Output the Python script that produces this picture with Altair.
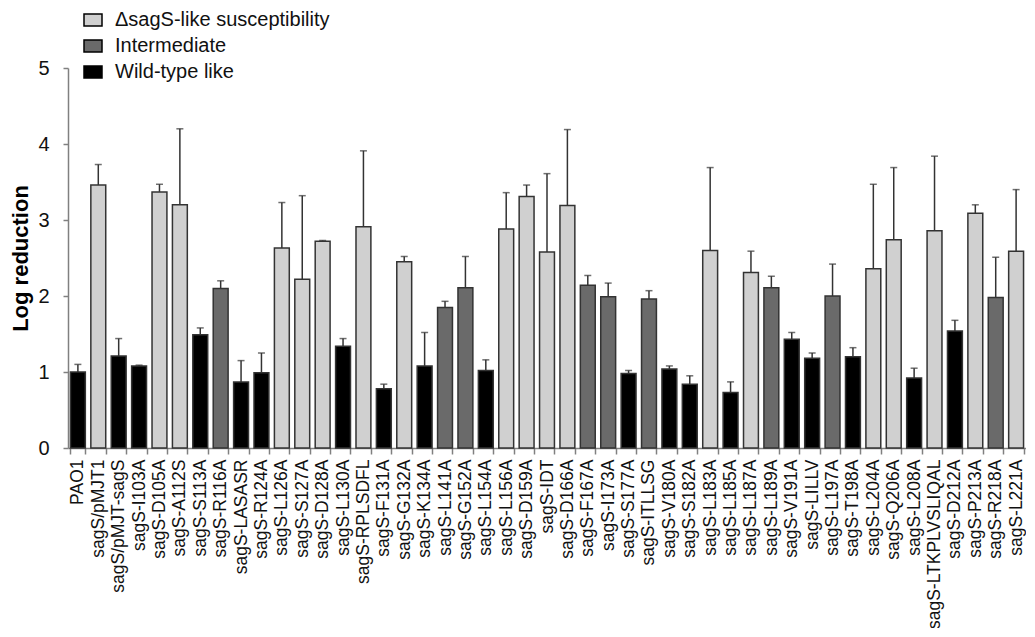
import altair as alt
import pandas as pd

strains = [
    "PAO1", "sagS/pMJT1", "sagS/pMJT-sagS", "sagS-I103A", "sagS-D105A", "sagS-A112S",
    "sagS-S113A", "sagS-R116A", "sagS-LASASR", "sagS-R124A", "sagS-L126A", "sagS-S127A",
    "sagS-D128A", "sagS-L130A", "sagS-RPLSDFL", "sagS-F131A", "sagS-G132A", "sagS-K134A",
    "sagS-L141A", "sagS-G152A", "sagS-L154A", "sagS-L156A", "sagS-D159A", "sagS-IDT",
    "sagS-D166A", "sagS-F167A", "sagS-I173A", "sagS-S177A", "sagS-ITLLSG", "sagS-V180A",
    "sagS-S182A", "sagS-L183A", "sagS-L185A", "sagS-L187A", "sagS-L189A", "sagS-V191A",
    "sagS-LILLV", "sagS-L197A", "sagS-T198A", "sagS-L204A", "sagS-Q206A", "sagS-L208A",
    "sagS-LTKPLVSLIQAL", "sagS-D212A", "sagS-P213A", "sagS-R218A", "sagS-L221A",
]

log_reduction = [
    1.00, 3.46, 1.21, 1.08, 3.37, 3.20,
    1.49, 2.10, 0.87, 0.99, 2.63, 2.22,
    2.72, 1.34, 2.91, 0.78, 2.45, 1.08,
    1.85, 2.11, 1.02, 2.88, 3.31, 2.58,
    3.19, 2.14, 1.99, 0.98, 1.96, 1.04,
    0.84, 2.60, 0.73, 2.31, 2.11, 1.43,
    1.18, 2.00, 1.20, 2.36, 2.74, 0.92,
    2.86, 1.54, 3.09, 1.98, 2.59,
]

error_top = [
    1.10, 3.73, 1.44, 1.09, 3.47, 4.20,
    1.58, 2.20, 1.15, 1.25, 3.23, 3.32,
    2.73, 1.44, 3.91, 0.84, 2.52, 1.52,
    1.93, 2.52, 1.16, 3.36, 3.46, 3.61,
    4.19, 2.27, 2.17, 1.02, 2.07, 1.08,
    0.95, 3.69, 0.87, 2.59, 2.26, 1.52,
    1.25, 2.42, 1.32, 3.47, 3.69, 1.05,
    3.84, 1.68, 3.20, 2.51, 3.40,
]

L, I, W = "\u0394sagS-like susceptibility", "Intermediate", "Wild-type like"
phenotype = [
    W, L, W, W, L, L,
    W, I, W, W, L, L,
    L, W, L, W, L, W,
    I, I, W, L, L, L,
    L, I, I, W, I, W,
    W, L, W, L, I, W,
    W, I, W, L, L, W,
    L, W, L, I, L,
]

groups = [L, I, W]
group_colors = ["#d0d0d0", "#6a6a6a", "#000000"]

df = pd.DataFrame({
    "strain": strains,
    "value": log_reduction,
    "err": error_top,
    "group": phenotype,
})

FONT = "Liberation Sans"

x_enc = alt.X(
    "strain:N",
    sort=strains,
    scale=alt.Scale(paddingInner=0.27, paddingOuter=0.12),
    axis=alt.Axis(
        title=None,
        labelAngle=-90,
        labelAlign="right",
        labelBaseline="middle",
        labelFontSize=17.5,
        labelFont=FONT,
        labelColor="#111111",
        labelPadding=5,
        tickBand="extent",
        tickSize=6,
        tickColor="#808080",
        tickWidth=1.5,
        domainColor="#808080",
        domainWidth=1.5,
        labelOverlap=False,
        labelLimit=400,
    ),
)

y_scale = alt.Scale(domain=[0, 5], nice=False)

bars = alt.Chart(df).mark_bar(stroke="#333333", strokeWidth=1.5).encode(
    x=x_enc,
    y=alt.Y(
        "value:Q",
        scale=y_scale,
        axis=alt.Axis(
            title="Log reduction",
            titleFont=FONT,
            titleFontSize=22,
            titleFontWeight="bold",
            titleColor="#000000",
            titlePadding=5,
            values=[0, 1, 2, 3, 4, 5],
            format="d",
            labelFont=FONT,
            labelFontSize=20,
            labelColor="#111111",
            labelPadding=14,
            tickSize=5,
            tickColor="#808080",
            tickWidth=1.5,
            domainColor="#808080",
            domainWidth=1.5,
            grid=False,
        ),
    ),
    color=alt.Color(
        "group:N",
        scale=alt.Scale(domain=groups, range=group_colors),
        legend=alt.Legend(
            title=None,
            orient="none",
            legendX=15,
            legendY=-58,
            padding=0,
            rowPadding=6,
            labelFont=FONT,
            labelFontSize=20,
            labelColor="#111111",
            labelOffset=12,
            symbolType="M-1,-0.67H1V0.67H-1Z",
            symbolSize=324,
            symbolStrokeColor="#000000",
            symbolStrokeWidth=1.5,
            labelLimit=400,
        ),
    ),
)

err_rule = alt.Chart(df).mark_rule(color="#333333", strokeWidth=1.5).encode(
    x=alt.X("strain:N", sort=strains),
    y=alt.Y("value:Q", scale=y_scale),
    y2="err:Q",
)

err_cap = alt.Chart(df).mark_tick(color="#333333", thickness=1.5, size=7).encode(
    x=alt.X("strain:N", sort=strains),
    y=alt.Y("err:Q", scale=y_scale),
)

chart = (
    alt.layer(err_rule, bars, err_cap)
    .properties(
        width=958,
        height=380,
        autosize=alt.AutoSizeParams(type="none"),
        padding={"left": 60, "top": 60, "right": 0, "bottom": 180},
        background="#ffffff",
    )
    .configure_view(stroke=None)
)

chart.save("out.html", embed_options={"renderer": "svg", "actions": False})
